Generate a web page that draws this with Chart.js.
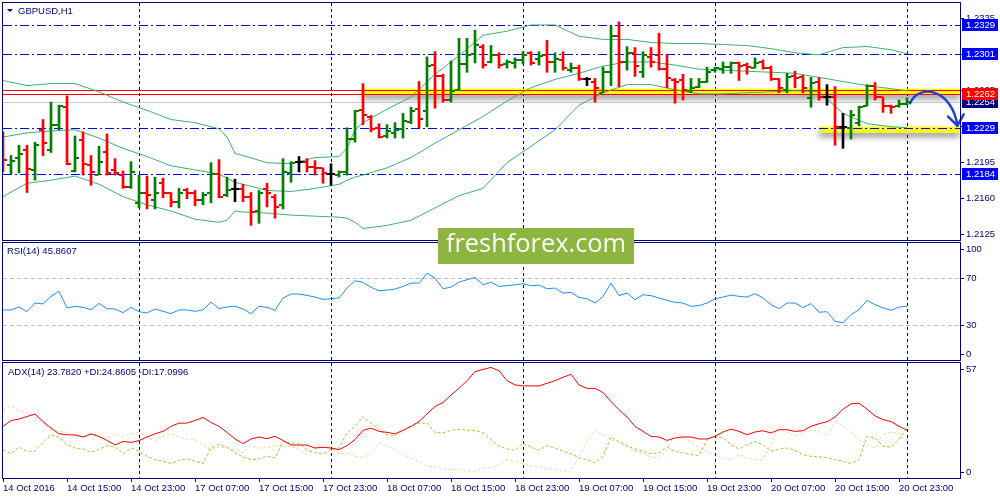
<!DOCTYPE html>
<html>
<head>
<meta charset="utf-8">
<title>GBPUSD,H1</title>
<script src="https://cdn.jsdelivr.net/npm/chart.js@4.4.1/dist/chart.umd.min.js"></script>
<style>
  html, body { margin: 0; padding: 0; background: #fff; }
  #wrap { position: relative; width: 1000px; height: 500px; overflow: hidden; }
  #wrap canvas { position: absolute; left: 0; top: 0; }
</style>
</head>
<body>
<div id="wrap">
  <canvas id="priceChart" width="1000" height="500"></canvas>
  <canvas id="rsiChart" width="1000" height="500"></canvas>
  <canvas id="adxChart" width="1000" height="500"></canvas>
</div>
<script>
// ---- data (one H1 bar per index) ----
const timeLabels = ['14 Oct 2016', '14 Oct 15:00', '14 Oct 23:00', '17 Oct 07:00', '17 Oct 15:00',
  '17 Oct 23:00', '18 Oct 07:00', '18 Oct 15:00', '18 Oct 23:00', '19 Oct 07:00', '19 Oct 15:00',
  '19 Oct 23:00', '20 Oct 07:00', '20 Oct 15:00', '20 Oct 23:00'];

const opens = [
  1.2217, 1.2193, 1.2200, 1.2207, 1.2188, 1.2227, 1.2207, 1.2232, 1.2249, 1.2187,
  1.2217, 1.2193, 1.2183, 1.2205, 1.2188, 1.2183, 1.2171, 1.2156, 1.2166, 1.2159,
  1.2175, 1.2166, 1.2157, 1.2168, 1.2166, 1.2159, 1.2166, 1.2184, 1.2164, 1.2169,
  1.2169, 1.2162, 1.2148, 1.2169, 1.2162, 1.2154, 1.2185, 1.2196, 1.2196, 1.2191,
  1.2190, 1.2184, 1.2183, 1.2186, 1.2218, 1.2246, 1.2239, 1.2229, 1.2221, 1.2224,
  1.2228, 1.2235, 1.2247, 1.2245, 1.2290, 1.2279, 1.2256, 1.2266, 1.2291, 1.2301,
  1.2308, 1.2293, 1.2300, 1.2291, 1.2292, 1.2295, 1.2302, 1.2296, 1.2300, 1.2293,
  1.2295, 1.2285, 1.2287, 1.2276, 1.2274, 1.2263, 1.2283, 1.2318, 1.2293, 1.2302,
  1.2283, 1.2298, 1.2300, 1.2286, 1.2275, 1.2275, 1.2265, 1.2269, 1.2274, 1.2285,
  1.2286, 1.2288, 1.2292, 1.2290, 1.2287, 1.2293, 1.2287, 1.2276, 1.2266, 1.2279,
  1.2278, 1.2258, 1.2274, 1.2259, 1.2259, 1.2230, 1.2229, 1.2234, 1.2250, 1.2270,
  1.2259, 1.2250, 1.2250, 1.2252];
const highs = [
  1.2225, 1.2202, 1.2212, 1.2212, 1.2215, 1.2237, 1.2254, 1.2251, 1.2260, 1.2221,
  1.2225, 1.2202, 1.2211, 1.2223, 1.2199, 1.2187, 1.2196, 1.2183, 1.2182, 1.2181,
  1.2180, 1.2166, 1.2170, 1.2170, 1.2168, 1.2166, 1.2195, 1.2198, 1.2181, 1.2179,
  1.2174, 1.2166, 1.2168, 1.2175, 1.2164, 1.2199, 1.2196, 1.2201, 1.2199, 1.2197,
  1.2190, 1.2194, 1.2187, 1.2229, 1.2246, 1.2272, 1.2241, 1.2233, 1.2232, 1.2234,
  1.2243, 1.2249, 1.2274, 1.2298, 1.2303, 1.2281, 1.2294, 1.2316, 1.2316, 1.2324,
  1.2310, 1.2309, 1.2302, 1.2295, 1.2297, 1.2303, 1.2303, 1.2303, 1.2314, 1.2302,
  1.2303, 1.2292, 1.2290, 1.2278, 1.2277, 1.2288, 1.2328, 1.2332, 1.2308, 1.2307,
  1.2303, 1.2307, 1.2321, 1.2300, 1.2277, 1.2281, 1.2277, 1.2277, 1.2288, 1.2288,
  1.2293, 1.2293, 1.2293, 1.2292, 1.2297, 1.2295, 1.2289, 1.2277, 1.2282, 1.2284,
  1.2280, 1.2278, 1.2278, 1.2271, 1.2269, 1.2243, 1.2246, 1.2250, 1.2271, 1.2273,
  1.2259, 1.2251, 1.2256, 1.2258];
const lows = [
  1.2186, 1.2184, 1.2185, 1.2166, 1.2178, 1.2202, 1.2205, 1.2227, 1.2193, 1.2186,
  1.2183, 1.2173, 1.2183, 1.2183, 1.2183, 1.2170, 1.2170, 1.2151, 1.2150, 1.2150,
  1.2161, 1.2152, 1.2151, 1.2160, 1.2153, 1.2154, 1.2156, 1.2161, 1.2162, 1.2157,
  1.2157, 1.2134, 1.2136, 1.2152, 1.2141, 1.2150, 1.2176, 1.2186, 1.2186, 1.2183,
  1.2175, 1.2173, 1.2181, 1.2183, 1.2215, 1.2232, 1.2225, 1.2219, 1.2219, 1.2219,
  1.2219, 1.2233, 1.2229, 1.2230, 1.2248, 1.2254, 1.2254, 1.2265, 1.2283, 1.2292,
  1.2287, 1.2292, 1.2287, 1.2287, 1.2287, 1.2291, 1.2290, 1.2290, 1.2283, 1.2283,
  1.2285, 1.2283, 1.2275, 1.2270, 1.2254, 1.2263, 1.2270, 1.2269, 1.2285, 1.2279,
  1.2278, 1.2288, 1.2285, 1.2268, 1.2253, 1.2256, 1.2263, 1.2268, 1.2273, 1.2283,
  1.2282, 1.2282, 1.2275, 1.2281, 1.2287, 1.2286, 1.2275, 1.2263, 1.2263, 1.2268,
  1.2263, 1.2249, 1.2256, 1.2251, 1.2212, 1.2209, 1.2218, 1.2231, 1.2250, 1.2256,
  1.2244, 1.2243, 1.2249, 1.2251];
const closes = [
  1.2198, 1.2197, 1.2203, 1.2189, 1.2212, 1.2214, 1.2232, 1.2250, 1.2194, 1.2200,
  1.2194, 1.2186, 1.2196, 1.2185, 1.2185, 1.2171, 1.2186, 1.2166, 1.2164, 1.2166,
  1.2166, 1.2157, 1.2166, 1.2166, 1.2159, 1.2164, 1.2184, 1.2162, 1.2168, 1.2169,
  1.2162, 1.2147, 1.2166, 1.2166, 1.2152, 1.2186, 1.2195, 1.2196, 1.2191, 1.2190,
  1.2185, 1.2184, 1.2186, 1.2218, 1.2245, 1.2241, 1.2228, 1.2220, 1.2226, 1.2227,
  1.2236, 1.2245, 1.2238, 1.2289, 1.2279, 1.2256, 1.2265, 1.2291, 1.2300, 1.2310,
  1.2290, 1.2300, 1.2290, 1.2293, 1.2295, 1.2300, 1.2292, 1.2299, 1.2293, 1.2296,
  1.2287, 1.2287, 1.2276, 1.2276, 1.2268, 1.2283, 1.2318, 1.2293, 1.2302, 1.2289,
  1.2300, 1.2293, 1.2286, 1.2277, 1.2274, 1.2266, 1.2268, 1.2274, 1.2283, 1.2287,
  1.2288, 1.2292, 1.2289, 1.2288, 1.2292, 1.2287, 1.2276, 1.2268, 1.2278, 1.2277,
  1.2268, 1.2273, 1.2259, 1.2259, 1.2230, 1.2230, 1.2241, 1.2249, 1.2270, 1.2259,
  1.2250, 1.2249, 1.2252, 1.2254];

// Bollinger bands, read at these bar indices
const bandIdx = [0, 3, 6, 9, 12, 15, 18, 21, 24, 27, 28, 29, 30, 33, 36, 39, 42, 43, 44, 45, 48,
  51, 54, 57, 60, 63, 66, 69, 72, 75, 78, 81, 84, 87, 90, 93, 96, 99, 102, 105, 108, 111, 113];
const bandUpper = [1.2275, 1.2270, 1.2272, 1.2272, 1.2264, 1.2254, 1.2246, 1.2237, 1.2234, 1.2228,
  1.2220, 1.2204, 1.2202, 1.2195, 1.2194, 1.2200, 1.2201, 1.2209, 1.2227, 1.2234, 1.2247,
  1.2259, 1.2281, 1.2299, 1.2319, 1.2323, 1.2329, 1.2329, 1.2318, 1.2315, 1.2315, 1.2312,
  1.2311, 1.2311, 1.2310, 1.2309, 1.2306, 1.2302, 1.2300, 1.2307, 1.2308, 1.2305, 1.2301];
const bandMiddle = [1.2220, 1.2224, 1.2226, 1.2227, 1.2219, 1.2209, 1.2201, 1.2192, 1.2188, 1.2184,
  1.2180, 1.2176, 1.2174, 1.2168, 1.2167, 1.2170, 1.2174, 1.2178, 1.2181, 1.2183, 1.2190,
  1.2200, 1.2214, 1.2227, 1.2240, 1.2255, 1.2268, 1.2276, 1.2282, 1.2289, 1.2293, 1.2293,
  1.2290, 1.2286, 1.2285, 1.2284, 1.2283, 1.2282, 1.2278, 1.2274, 1.2270, 1.2267, 1.2265];
const bandLower = [1.2162, 1.2175, 1.2178, 1.2182, 1.2174, 1.2162, 1.2154, 1.2148, 1.2140, 1.2137,
  1.2139, 1.2148, 1.2147, 1.2146, 1.2144, 1.2143, 1.2142, 1.2141, 1.2137, 1.2131, 1.2134,
  1.2139, 1.2151, 1.2163, 1.2170, 1.2195, 1.2211, 1.2227, 1.2251, 1.2263, 1.2271, 1.2271,
  1.2266, 1.2262, 1.2262, 1.2263, 1.2264, 1.2265, 1.2264, 1.2243, 1.2233, 1.2230, 1.2229];

const rsiValues = [
  42.8, 42.8, 45.3, 41.3, 48.7, 47.9, 54.4, 58.7, 44.5, 45.9,
  45.0, 43.0, 48.4, 43.9, 43.6, 40.5, 45.0, 41.3, 40.2, 43.6,
  41.6, 39.6, 42.8, 42.8, 41.6, 42.8, 49.6, 43.9, 45.3, 45.9,
  43.6, 39.6, 45.9, 45.0, 42.5, 53.0, 56.4, 56.4, 55.2, 53.8,
  51.8, 52.4, 53.0, 61.5, 67.7, 66.3, 62.1, 59.2, 59.8, 60.6,
  62.9, 65.7, 65.7, 74.3, 70.0, 60.9, 62.3, 66.6, 68.6, 70.6,
  64.3, 66.6, 62.9, 63.5, 64.3, 65.2, 63.5, 64.0, 60.9, 61.5,
  57.2, 57.8, 53.5, 52.4, 48.7, 54.4, 65.7, 55.0, 57.2, 51.6,
  55.8, 55.0, 53.0, 51.0, 49.3, 48.7, 45.9, 46.5, 48.7, 52.4,
  53.8, 55.5, 54.4, 53.8, 56.7, 53.0, 47.3, 43.9, 48.7, 48.7,
  44.8, 48.2, 40.8, 41.3, 33.1, 31.7, 38.8, 43.0, 51.0, 47.3,
  44.5, 42.5, 45.3, 45.9];
const adxValues = [
  25.7, 28.6, 29.3, 30.6, 31.8, 28.1, 24.8, 22.0, 21.5, 21.4,
  20.4, 21.9, 20.7, 18.7, 16.4, 18.2, 17.7, 18.6, 20.4, 22.0,
  23.2, 25.7, 27.3, 27.3, 28.6, 30.1, 27.6, 25.7, 22.7, 19.4,
  17.1, 19.4, 20.4, 19.6, 20.7, 18.7, 16.4, 16.4, 16.4, 14.9,
  15.3, 14.9, 14.1, 16.1, 19.1, 23.7, 24.8, 23.2, 22.7, 22.0,
  23.7, 25.7, 28.1, 31.9, 35.6, 37.5, 41.3, 44.6, 48.4, 52.9,
  54.0, 55.0, 53.3, 48.4, 46.3, 45.8, 45.8, 45.8, 47.1, 48.4,
  50.1, 51.6, 46.3, 44.6, 44.6, 42.5, 38.0, 33.9, 30.3, 25.7,
  23.2, 20.7, 20.4, 18.7, 19.9, 20.4, 20.4, 19.4, 19.4, 20.7,
  22.9, 24.3, 23.2, 21.5, 22.9, 23.5, 22.4, 24.0, 24.0, 23.2,
  23.5, 25.7, 27.0, 28.0, 30.3, 34.2, 36.9, 37.2, 34.2, 30.9,
  29.0, 28.1, 25.7, 23.8];
const plusDi = [
  14.1, 12.1, 15.4, 13.3, 13.3, 17.7, 21.5, 20.2, 16.6, 14.9,
  14.4, 12.8, 14.1, 16.1, 15.4, 12.1, 14.9, 13.3, 10.8, 9.2,
  8.3, 7.2, 8.8, 9.5, 8.3, 7.2, 14.9, 16.6, 15.4, 12.5,
  10.5, 9.2, 9.5, 10.8, 10.0, 18.2, 17.4, 17.4, 14.1, 12.5,
  12.0, 14.1, 14.9, 22.4, 25.7, 30.6, 27.3, 24.0, 21.5, 21.0,
  23.7, 25.7, 27.3, 27.3, 22.7, 22.4, 23.7, 24.3, 23.7, 23.7,
  22.4, 19.1, 15.8, 14.4, 13.8, 17.4, 15.4, 13.8, 16.1, 14.9,
  13.3, 12.1, 10.0, 9.2, 7.5, 10.8, 20.4, 18.2, 16.1, 14.4,
  13.3, 12.1, 12.5, 15.4, 13.3, 12.5, 11.6, 11.1, 19.1, 21.0,
  19.9, 16.6, 14.4, 16.6, 18.2, 16.6, 13.3, 14.4, 14.9, 13.8,
  11.6, 10.8, 10.5, 10.0, 9.2, 8.3, 7.2, 9.2, 20.7, 19.9,
  15.8, 15.4, 19.1, 24.9];
const minusDi = [
  33.9, 35.9, 33.6, 32.2, 30.3, 27.3, 24.0, 23.2, 22.7, 21.5,
  20.4, 22.0, 20.7, 19.9, 22.0, 20.7, 22.0, 22.7, 20.4, 18.2,
  20.7, 22.0, 20.4, 19.1, 19.1, 16.6, 13.8, 15.4, 14.9, 14.1,
  12.5, 16.1, 14.9, 14.9, 16.1, 15.8, 15.8, 14.4, 11.6, 14.9,
  18.2, 14.4, 12.1, 12.5, 10.8, 10.0, 12.5, 17.4, 15.8, 14.1,
  11.6, 10.0, 8.3, 5.9, 5.5, 4.5, 4.2, 4.2, 3.4, 3.4,
  5.0, 5.0, 6.5, 9.2, 8.3, 7.2, 6.2, 5.5, 4.5, 4.2,
  3.9, 2.9, 10.8, 18.2, 23.7, 21.5, 19.1, 17.4, 15.4, 13.3,
  12.5, 10.5, 10.0, 14.1, 22.4, 20.4, 17.7, 15.4, 13.3, 10.8,
  10.0, 8.8, 11.6, 10.0, 9.2, 9.2, 16.6, 26.0, 22.7, 20.7,
  22.7, 23.7, 23.2, 21.0, 28.1, 26.0, 22.4, 19.1, 16.6, 14.9,
  21.5, 22.7, 22.4, 17.1];

const priceTicks = [1.2125, 1.2160, 1.2195, 1.2230, 1.2265, 1.2300, 1.2335];
const blueLevels = [1.2329, 1.2301, 1.2229, 1.2184];
const redLevels = [1.2266, 1.2262];
const bidPrice = 1.2254;
const rsiLevels = [70, 30];
const rsiTicks = [100, 70, 30, 0];
const adxTicks = [57, 0];
const gridIdx = [17, 41, 65, 89, 113];

// ---- look ----
const X_MIN = 0, X_MAX = 119.625;
const NAVY = '#000080';
const UP = '#008000', DOWN = '#ff0000', DOJI = '#000000';
const FAMILY = "'Liberation Sans', Arial, sans-serif";
const FONT = '9.5px ' + FAMILY;

// hand-drawn marks of the analyst, in bar index / price terms
const highlights = [
  { from: 44.8, price: 1.2264 },
  { from: 102.0, price: 1.2227 }
];
const arrow = { start: [113.4, 1.2253], c1: [114.4, 1.2272], c2: [118.6, 1.2268], end: [119.3, 1.2231] };
const axisBoxes = [
  { v: 1.2329, bg: '#0000ff' }, { v: 1.2301, bg: '#0000ff' }, { v: 1.2229, bg: '#0000ff' },
  { v: 1.2184, bg: '#0000ff' }, { v: 1.2254, bg: '#000080' }, { v: 1.2262, bg: '#ff0000' }
];

const barIdx = opens.map((_, i) => i);
const barColors = closes.map((c, i) => c > opens[i] ? UP : (c < opens[i] ? DOWN : DOJI));

function pts(xs, ys) { return ys.map((y, k) => ({ x: xs[k], y: y })); }

function lineDs(data, color, extra) {
  return Object.assign({
    type: 'line', data: data, borderColor: color, borderWidth: 1,
    pointRadius: 0, tension: 0, fill: false, order: 5
  }, extra || {});
}

function xHidden() {
  return { type: 'linear', min: X_MIN, max: X_MAX, display: false, offset: false, grid: { offset: false } };
}

// fixed 40px right axis, and no extra room reserved for end labels
function fixAxis(s) {
  s.width = 40;
  s.paddingTop = 0;
  s.paddingBottom = 0;
}

function sideAxis(min, max) {
  return {
    type: 'linear', position: 'right', min: min, max: max,
    ticks: { display: false }, grid: { display: false }, border: { display: false },
    afterFit: fixAxis
  };
}

// ---- shared drawing helpers ----
function drawGrid(chart) {
  const { ctx, chartArea: a, scales: { x } } = chart;
  ctx.save();
  ctx.strokeStyle = NAVY;
  ctx.lineWidth = 1;
  ctx.setLineDash([3, 3]);
  gridIdx.forEach(i => {
    const px = Math.round(x.getPixelForValue(i)) + 0.5;
    ctx.beginPath();
    ctx.moveTo(px, a.top);
    ctx.lineTo(px, a.bottom);
    ctx.stroke();
  });
  ctx.restore();
}

// horizontal level, snapped to a whole pixel row so it stays sharp
function drawLevel(chart, v, color, dash) {
  const { ctx, chartArea: a, scales: { y } } = chart;
  const py = Math.round(y.getPixelForValue(v)) + 0.5;
  ctx.save();
  ctx.strokeStyle = color;
  ctx.lineWidth = 1;
  ctx.setLineDash(dash || []);
  ctx.beginPath();
  ctx.moveTo(a.left, py);
  ctx.lineTo(a.right, py);
  ctx.stroke();
  ctx.restore();
}

function drawFrame(chart) {
  const { ctx, chartArea: a } = chart;
  ctx.save();
  ctx.strokeStyle = NAVY;
  ctx.lineWidth = 1;
  ctx.strokeRect(a.left - 0.5, a.top - 0.5, a.right - a.left + 1, a.bottom - a.top + 1);
  ctx.restore();
}

function drawCaption(chart, text, x, y) {
  const ctx = chart.ctx;
  ctx.save();
  ctx.fillStyle = NAVY;
  ctx.font = FONT;
  ctx.textBaseline = 'middle';
  ctx.textAlign = 'left';
  ctx.fillText(text, x, y);
  ctx.restore();
}

function drawSideLabels(chart, values) {
  const { ctx, chartArea: a, scales: { y } } = chart;
  ctx.save();
  ctx.fillStyle = NAVY;
  ctx.font = FONT;
  ctx.textBaseline = 'middle';
  ctx.textAlign = 'left';
  values.forEach(v => {
    const py = Math.round(y.getPixelForValue(v));
    const ty = Math.min(Math.max(py, a.top + 6), a.bottom - 6);
    ctx.fillRect(a.right + 1, ty, 3, 1);
    ctx.fillText(String(v), a.right + 6, ty);
  });
  ctx.restore();
}

// ---- price window ----
const pricePlugin = {
  id: 'pricePlugin',
  beforeDatasetsDraw(chart) {
    const { ctx, chartArea: a, scales: { x, y } } = chart;
    drawGrid(chart);
    // yellow marker strokes with their shadow
    highlights.forEach(h => {
      const x0 = x.getPixelForValue(h.from);
      const py = y.getPixelForValue(h.price);
      ctx.save();
      ctx.shadowColor = 'rgba(0,0,0,0.45)';
      ctx.shadowBlur = 6;
      ctx.shadowOffsetY = 4;
      ctx.fillStyle = '#ffff00';
      ctx.fillRect(x0, py - 3, a.right - x0, 6);
      ctx.restore();
    });
    drawLevel(chart, bidPrice, '#c8c8c8');
    redLevels.forEach(v => drawLevel(chart, v, '#ff0000'));
    blueLevels.forEach(v => drawLevel(chart, v, '#0000ff', [9, 3, 2, 3]));
  },
  afterDatasetsDraw(chart) {
    const { ctx, chartArea: a, scales: { x, y } } = chart;
    // open / close ticks of the bars
    ctx.save();
    ctx.beginPath();
    ctx.rect(a.left, a.top, a.right - a.left, a.bottom - a.top);
    ctx.clip();
    barIdx.forEach(i => {
      const px = Math.round(x.getPixelForValue(i));
      const yo = Math.round(y.getPixelForValue(opens[i]));
      const yc = Math.round(y.getPixelForValue(closes[i]));
      ctx.fillStyle = barColors[i];
      ctx.fillRect(px - 4, yo - 1, 3, 2);
      ctx.fillRect(px + 1, yc - 1, 3, 2);
    });
    ctx.restore();

    // forecast arrow
    const P = (p) => [x.getPixelForValue(p[0]), y.getPixelForValue(p[1])];
    const s = P(arrow.start), c1 = P(arrow.c1), c2 = P(arrow.c2), e = P(arrow.end);
    ctx.save();
    ctx.strokeStyle = '#1f3fd6';
    ctx.lineWidth = 2.5;
    ctx.lineCap = 'round';
    ctx.lineJoin = 'round';
    ctx.beginPath();
    ctx.moveTo(s[0], s[1]);
    ctx.bezierCurveTo(c1[0], c1[1], c2[0], c2[1], e[0], e[1]);
    ctx.stroke();
    const ang = Math.atan2(e[1] - c2[1], e[0] - c2[0]);
    [0.65, -0.65].forEach(d => {
      ctx.beginPath();
      ctx.moveTo(e[0], e[1]);
      ctx.lineTo(e[0] - 13 * Math.cos(ang + d), e[1] - 13 * Math.sin(ang + d));
      ctx.stroke();
    });
    ctx.restore();
  },
  afterDraw(chart) {
    const { ctx, chartArea: a, scales: { y } } = chart;
    drawFrame(chart);
    // title with the small menu triangle
    ctx.save();
    ctx.fillStyle = NAVY;
    ctx.beginPath();
    ctx.moveTo(a.left + 4, a.top + 6);
    ctx.lineTo(a.left + 10, a.top + 6);
    ctx.lineTo(a.left + 7, a.top + 9);
    ctx.closePath();
    ctx.fill();
    ctx.restore();
    drawCaption(chart, 'GBPUSD,H1', a.left + 15, a.top + 8);
    // coloured price boxes on the axis
    ctx.save();
    ctx.font = FONT;
    ctx.textBaseline = 'middle';
    ctx.textAlign = 'left';
    axisBoxes.forEach(b => {
      const py = Math.round(y.getPixelForValue(b.v));
      ctx.fillStyle = b.bg;
      ctx.fillRect(a.right + 2, py - 6, 36, 12);
      ctx.fillStyle = '#ffffff';
      ctx.fillText(b.v.toFixed(4), a.right + 6, py);
    });
    ctx.restore();
  }
};

const priceDatasets = [
  {
    type: 'bar',
    data: barIdx.map(i => ({ x: i, y: [lows[i], highs[i]] })),
    backgroundColor: barColors,
    borderWidth: 0,
    barThickness: 2,
    grouped: false,
    order: 0
  },
  lineDs(pts(bandIdx, bandUpper), '#3cb371'),
  lineDs(pts(bandIdx, bandMiddle), '#3cb371'),
  lineDs(pts(bandIdx, bandLower), '#3cb371')
];

new Chart(document.getElementById('priceChart'), {
  type: 'line',
  data: { datasets: priceDatasets },
  options: {
    responsive: false, animation: false, devicePixelRatio: 1, events: [],
    layout: { padding: { left: 3, top: 3, right: 0, bottom: 260 } },
    plugins: { legend: { display: false }, tooltip: { enabled: false } },
    scales: {
      x: xHidden(),
      y: {
        type: 'linear', position: 'right', min: 1.21198, max: 1.23504,
        afterFit: fixAxis,
        afterBuildTicks: (s) => { s.ticks = priceTicks.map(v => ({ value: v })); },
        ticks: {
          autoSkip: false, color: NAVY, padding: 2,
          font: { family: FAMILY, size: 9.5 },
          callback: (v) => Number(v).toFixed(4)
        },
        grid: { drawOnChartArea: false, drawTicks: true, tickLength: 4, color: NAVY },
        border: { display: true, color: NAVY }
      }
    }
  },
  plugins: [pricePlugin]
});

// ---- RSI window ----
new Chart(document.getElementById('rsiChart'), {
  type: 'line',
  data: { datasets: [lineDs(pts(barIdx, rsiValues), '#1e90ff', { order: 0 })] },
  options: {
    responsive: false, animation: false, devicePixelRatio: 1, events: [],
    layout: { padding: { left: 3, top: 243, right: 0, bottom: 140 } },
    plugins: { legend: { display: false }, tooltip: { enabled: false } },
    scales: { x: xHidden(), y: sideAxis(0, 100) }
  },
  plugins: [{
    id: 'rsiPlugin',
    beforeDatasetsDraw(chart) {
      drawGrid(chart);
      rsiLevels.forEach(v => drawLevel(chart, v, '#c0c0c0', [4, 3]));
    },
    afterDraw(chart) {
      drawFrame(chart);
      drawCaption(chart, 'RSI(14) 45.8607', chart.chartArea.left + 4, chart.chartArea.top + 8);
      drawSideLabels(chart, rsiTicks);
    }
  }]
});

// ---- ADX window with the time axis ----
new Chart(document.getElementById('adxChart'), {
  type: 'line',
  data: {
    datasets: [
      lineDs(pts(barIdx, adxValues), '#ff0000', { order: 0 }),
      lineDs(pts(barIdx, plusDi), '#9acd32', { borderDash: [3, 2], order: 1 }),
      lineDs(pts(barIdx, minusDi), '#f5d4a6', { borderDash: [3, 2], order: 2 })
    ]
  },
  options: {
    responsive: false, animation: false, devicePixelRatio: 1, events: [],
    layout: { padding: { left: 3, top: 363, right: 0, bottom: 0 } },
    plugins: { legend: { display: false }, tooltip: { enabled: false } },
    scales: {
      x: {
        type: 'linear', position: 'bottom', min: X_MIN, max: X_MAX, offset: false,
        afterFit: (s) => { s.height = 22; s.paddingLeft = 0; s.paddingRight = 0; },
        afterBuildTicks: (s) => { s.ticks = timeLabels.map((_, k) => ({ value: k * 8 })); },
        ticks: {
          autoSkip: false, maxRotation: 0, minRotation: 0, align: 'start', padding: 1,
          color: NAVY, font: { family: FAMILY, size: 9.5 },
          callback: (v) => timeLabels[Math.round(v / 8)]
        },
        grid: { offset: false, drawOnChartArea: false, drawTicks: true, tickLength: 4, color: NAVY },
        border: { display: false }
      },
      y: sideAxis(0, 57.2)
    }
  },
  plugins: [{
    id: 'adxPlugin',
    beforeDatasetsDraw(chart) { drawGrid(chart); },
    afterDraw(chart) {
      const ctx = chart.ctx;
      drawFrame(chart);
      drawCaption(chart, 'ADX(14) 23.7820 +DI:24.8605 -DI:17.0996', chart.chartArea.left + 5, chart.chartArea.top + 9);
      drawSideLabels(chart, adxTicks);
      // freshforex badge across the first two windows
      ctx.save();
      ctx.fillStyle = '#8db53f';
      ctx.fillRect(438, 228, 196, 36);
      ctx.fillStyle = '#ffffff';
      let size = 30;
      ctx.font = size + "px 'Open Sans', sans-serif";
      const w = ctx.measureText('freshforex.com').width;
      size = size * 180 / w;
      ctx.font = size.toFixed(1) + "px 'Open Sans', sans-serif";
      ctx.textAlign = 'center';
      ctx.textBaseline = 'middle';
      ctx.fillText('freshforex.com', 536, 245);
      ctx.restore();
    }
  }]
});
</script>
</body>
</html>
